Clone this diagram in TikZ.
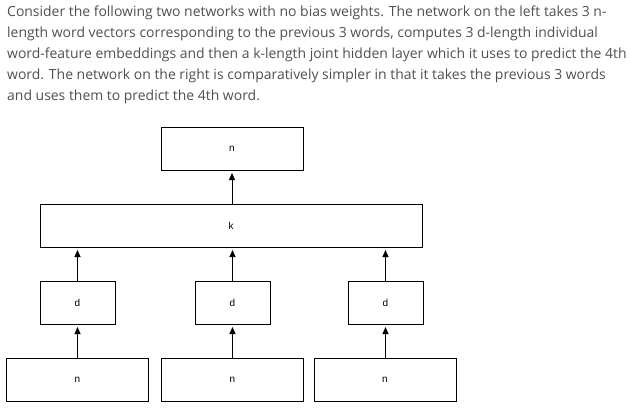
\documentclass[tikz,border=0pt]{standalone}
\usepackage{fontspec}
\setmainfont{Open Sans}
\newfontfamily\boxfont{Liberation Sans}
\usetikzlibrary{arrows.meta}
\definecolor{txtgray}{HTML}{4F4F4F}
\tikzset{
  layerbox/.style={draw=black, line width=1pt, minimum height=43pt, inner sep=0pt, font=\boxfont\fontsize{10}{12}\selectfont},
  txtline/.style={anchor=base west, inner sep=0pt, text=txtgray, font=\fontsize{13.95}{16}\selectfont},
  uparrow/.style={-{Triangle[length=7pt,width=6pt]}, line width=1pt, shorten >=2.5pt},
}
\begin{document}
\begin{tikzpicture}[x=1pt,y=-1pt]
\useasboundingbox (0,0) rectangle (631,417);
% text
\node[txtline] (t1) at (7,17) {Consider the following two networks with no bias weights. The network on the left takes 3 n-};
\node[txtline] (t2) at (7,38) {length word vectors corresponding to the previous 3 words, computes 3 d-length individual};
\node[txtline] (t3) at (7,59) {word-feature embeddings and then a k-length joint hidden layer which it uses to predict the 4th};
\node[txtline] (t4) at (7,80) {word. The network on the right is comparatively simpler in that it takes the previous 3 words};
\node[txtline] (t5) at (7,101) {and uses them to predict the 4th word.};
% boxes
\node[layerbox, minimum width=142pt] (top) at (232,148.5) {n};
\node[layerbox, minimum width=382pt] (k) at (231,225.5) {k};
\node[layerbox, minimum width=75pt] (d1) at (77.5,302.5) {d};
\node[layerbox, minimum width=75pt] (d2) at (232.5,302.5) {d};
\node[layerbox, minimum width=75pt] (d3) at (385.5,302.5) {d};
\node[layerbox, minimum width=142pt] (n1) at (77.5,379.5) {n};
\node[layerbox, minimum width=142pt] (n2) at (232.5,379.5) {n};
\node[layerbox, minimum width=142pt] (n3) at (385,379.5) {n};
% arrows
\draw[uparrow] (n1.north) -- (d1.south);
\draw[uparrow] (n2.north) -- (d2.south);
\draw[uparrow] (n3.north -| d3.south) -- (d3.south);
\draw[uparrow] (d1.north) -- (d1.north |- k.south);
\draw[uparrow] (d2.north) -- (d2.north |- k.south);
\draw[uparrow] (d3.north) -- (d3.north |- k.south);
\draw[uparrow] (k.north -| top.south) -- (top.south);
\end{tikzpicture}
\end{document}
